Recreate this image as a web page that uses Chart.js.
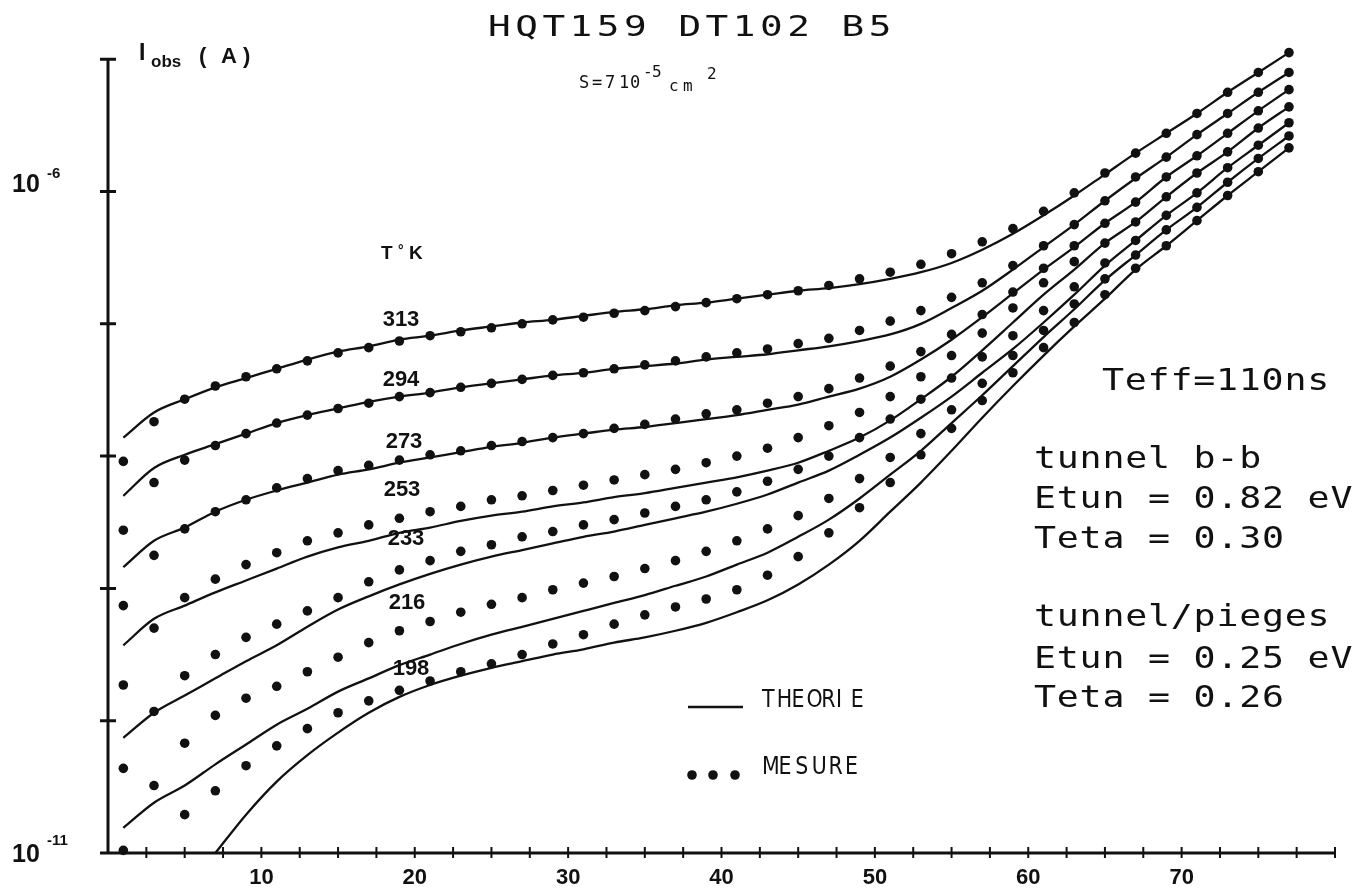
<!DOCTYPE html>
<html>
<head>
<meta charset="utf-8">
<script src="https://cdn.jsdelivr.net/npm/chart.js@4.4.1/dist/chart.umd.min.js"></script>
<style>
  html, body { margin: 0; padding: 0; background: #fff; }
  canvas { display: block; }
</style>
</head>
<body>
<canvas id="chart" width="1355" height="888"></canvas>
<script>
// reverse voltage Vinv (V) of every measured point
const vinv = [1, 3, 5, 7, 9, 11, 13, 15, 17, 19, 21, 23, 25, 27, 29, 31, 33, 35, 37, 39,
              41, 43, 45, 47, 49, 51, 53, 55, 57, 59, 61, 63, 65, 67, 69, 71, 73, 75, 77];
const temps = [313, 294, 273, 253, 233, 216, 198];

// log10 of Iobs (A) -- measured points (mes) and theory curves (th)
const mes313 = [-8.04, -7.74, -7.57, -7.47, -7.40, -7.34, -7.28, -7.22, -7.18, -7.13, -7.09, -7.06, -7.03, -7.00, -6.97, -6.95, -6.92, -6.90, -6.87, -6.84,
                -6.81, -6.78, -6.75, -6.71, -6.66, -6.61, -6.55, -6.47, -6.38, -6.28, -6.15, -6.01, -5.86, -5.71, -5.56, -5.41, -5.25, -5.10, -4.95];
const th313  = [-7.86, -7.67, -7.57, -7.48, -7.41, -7.34, -7.27, -7.21, -7.17, -7.12, -7.09, -7.05, -7.02, -6.99, -6.97, -6.94, -6.91, -6.89, -6.86, -6.84,
                -6.81, -6.78, -6.75, -6.73, -6.70, -6.66, -6.61, -6.54, -6.44, -6.32, -6.18, -6.03, -5.87, -5.71, -5.56, -5.41, -5.25, -5.10, -4.95];
const mes294 = [-8.56, -8.20, -8.03, -7.92, -7.83, -7.75, -7.69, -7.64, -7.60, -7.55, -7.52, -7.48, -7.45, -7.42, -7.39, -7.37, -7.34, -7.31, -7.28, -7.25,
                -7.22, -7.19, -7.15, -7.11, -7.05, -6.98, -6.90, -6.80, -6.69, -6.56, -6.41, -6.25, -6.07, -5.89, -5.74, -5.57, -5.41, -5.25, -5.10];
const th294  = [-8.30, -8.09, -7.99, -7.91, -7.83, -7.75, -7.69, -7.64, -7.59, -7.55, -7.52, -7.48, -7.45, -7.42, -7.39, -7.37, -7.34, -7.32, -7.30, -7.27,
                -7.25, -7.23, -7.20, -7.17, -7.13, -7.08, -7.00, -6.88, -6.75, -6.59, -6.42, -6.25, -6.07, -5.90, -5.74, -5.57, -5.41, -5.25, -5.10];
const mes273 = [-9.13, -8.75, -8.55, -8.42, -8.33, -8.24, -8.17, -8.11, -8.07, -8.03, -7.99, -7.96, -7.92, -7.89, -7.86, -7.83, -7.79, -7.76, -7.72, -7.68,
                -7.65, -7.60, -7.55, -7.49, -7.41, -7.32, -7.21, -7.08, -6.93, -6.76, -6.58, -6.41, -6.24, -6.08, -5.89, -5.73, -5.56, -5.39, -5.23];
const th273  = [-8.84, -8.64, -8.54, -8.42, -8.33, -8.26, -8.20, -8.14, -8.10, -8.05, -8.01, -7.97, -7.93, -7.90, -7.86, -7.83, -7.80, -7.78, -7.75, -7.72,
                -7.69, -7.65, -7.61, -7.55, -7.49, -7.40, -7.27, -7.12, -6.95, -6.77, -6.59, -6.42, -6.24, -6.08, -5.89, -5.73, -5.56, -5.39, -5.23];
const mes253 = [-9.73, -9.30, -9.07, -8.93, -8.82, -8.73, -8.64, -8.58, -8.52, -8.47, -8.42, -8.38, -8.33, -8.30, -8.26, -8.22, -8.18, -8.14, -8.10, -8.05,
                -8.00, -7.94, -7.86, -7.77, -7.67, -7.55, -7.40, -7.24, -7.07, -6.88, -6.69, -6.53, -6.39, -6.23, -6.04, -5.86, -5.70, -5.52, -5.36];
const th253  = [-9.43, -9.23, -9.13, -9.03, -8.94, -8.85, -8.76, -8.69, -8.64, -8.58, -8.54, -8.49, -8.45, -8.42, -8.38, -8.35, -8.31, -8.28, -8.24, -8.20,
                -8.16, -8.11, -8.05, -7.96, -7.86, -7.73, -7.57, -7.40, -7.20, -6.99, -6.78, -6.59, -6.39, -6.23, -6.04, -5.86, -5.70, -5.52, -5.36];
const mes233 = [-10.36, -9.93, -9.66, -9.50, -9.37, -9.27, -9.17, -9.07, -8.95, -8.86, -8.79, -8.72, -8.67, -8.61, -8.57, -8.52, -8.48, -8.43, -8.38, -8.33,
                -8.27, -8.19, -8.10, -8.00, -7.86, -7.72, -7.57, -7.41, -7.25, -7.09, -6.90, -6.72, -6.54, -6.37, -6.18, -6.01, -5.82, -5.65, -5.48];
const th233  = [-10.13, -9.94, -9.81, -9.68, -9.55, -9.43, -9.29, -9.16, -9.06, -8.97, -8.89, -8.82, -8.76, -8.71, -8.66, -8.61, -8.57, -8.52, -8.47, -8.42,
                -8.36, -8.29, -8.20, -8.11, -7.99, -7.86, -7.71, -7.55, -7.37, -7.19, -6.99, -6.78, -6.56, -6.37, -6.18, -6.01, -5.82, -5.65, -5.48];
const mes216 = [-10.98, -10.49, -10.17, -9.96, -9.83, -9.74, -9.63, -9.52, -9.41, -9.32, -9.25, -9.18, -9.12, -9.07, -9.01, -8.96, -8.91, -8.85, -8.79, -8.72,
                -8.64, -8.55, -8.45, -8.32, -8.17, -8.01, -7.83, -7.65, -7.45, -7.24, -7.05, -6.85, -6.66, -6.48, -6.29, -6.12, -5.93, -5.75, -5.58];
const th216  = [-10.81, -10.62, -10.49, -10.33, -10.18, -10.03, -9.91, -9.78, -9.68, -9.58, -9.50, -9.42, -9.35, -9.29, -9.23, -9.17, -9.11, -9.05, -8.98, -8.91,
                -8.82, -8.73, -8.61, -8.48, -8.32, -8.14, -7.96, -7.75, -7.54, -7.32, -7.10, -6.89, -6.67, -6.48, -6.29, -6.12, -5.93, -5.75, -5.58];
const mes198 = [null, null, -10.71, -10.53, -10.34, -10.19, -10.06, -9.94, -9.85, -9.77, -9.70, -9.63, -9.57, -9.50, -9.42, -9.35, -9.27, -9.20, -9.14, -9.08,
                -9.01, -8.90, -8.76, -8.58, -8.39, -8.20, -7.99, -7.79, -7.58, -7.37, -7.18, -6.99, -6.78, -6.58, -6.41, -6.22, -6.03, -5.85, -5.67];
const th198  = [null, null, null, -11.00, -10.71, -10.46, -10.26, -10.09, -9.94, -9.82, -9.73, -9.66, -9.60, -9.55, -9.50, -9.46, -9.41, -9.37, -9.32, -9.26,
                -9.18, -9.09, -8.97, -8.82, -8.64, -8.42, -8.20, -7.96, -7.71, -7.47, -7.24, -7.02, -6.81, -6.59, -6.41, -6.22, -6.03, -5.85, -5.67];

const mesures = [mes313, mes294, mes273, mes253, mes233, mes216, mes198];
const theories = [th313, th294, th273, th253, th233, th216, th198];

const xLabels = [10, 20, 30, 40, 50, 60, 70];
const decades = [-11, -10, -9, -8, -7, -6, -5];

const toPoints = logs => vinv.map((v, i) => ({ x: v, y: logs[i] === null ? null : Math.pow(10, logs[i]) }));

const datasets = [];
theories.forEach((th, k) => datasets.push({
  label: 'T' + temps[k],
  data: toPoints(th),
  showLine: true,
  borderColor: '#111',
  borderWidth: 2.3,
  pointRadius: 0,
  cubicInterpolationMode: 'monotone',
  clip: false
}));
mesures.forEach((m, k) => datasets.push({
  label: 'M' + temps[k],
  data: toPoints(m),
  showLine: false,
  pointRadius: 4.8,
  pointBackgroundColor: '#111',
  pointBorderWidth: 0,
  clip: false
}));

// plotter style text: one glyph every `pitch` pixels, stretched by sx
function spaced(ctx, text, x, y, pitch, sx) {
  for (let i = 0; i < text.length; i++) {
    ctx.save();
    ctx.translate(x + i * pitch, y);
    ctx.scale(sx || 1, 1);
    ctx.fillText(text[i], 0, 0);
    ctx.restore();
  }
}

const frame = {
  id: 'frame',
  beforeDatasetsDraw(chart) {
    const { ctx, scales: { x, y } } = chart;
    const x0 = x.getPixelForValue(0), x1 = x.getPixelForValue(80);
    const yb = y.getPixelForValue(1e-11), yt = y.getPixelForValue(1e-5);
    ctx.save();
    ctx.strokeStyle = '#111';
    ctx.lineWidth = 3;
    ctx.beginPath();
    ctx.moveTo(x0, yt); ctx.lineTo(x0, yb);
    ctx.moveTo(x0 - 8, yb); ctx.lineTo(x1, yb);
    decades.forEach(d => {
      const py = y.getPixelForValue(Math.pow(10, d));
      ctx.moveTo(x0 - 8, py); ctx.lineTo(x0 + 8, py);
    });
    ctx.stroke();
    ctx.lineWidth = 2;
    ctx.beginPath();
    for (let v = 2.5; v <= 80; v += 2.5) {
      const px = x.getPixelForValue(v);
      ctx.moveTo(px, yb - 6); ctx.lineTo(px, yb + 5);
    }
    ctx.stroke();

    // axis numbers
    ctx.fillStyle = '#111';
    ctx.textAlign = 'center';
    ctx.textBaseline = 'alphabetic';
    ctx.font = 'bold 22px "Liberation Sans", Arial, sans-serif';
    xLabels.forEach(v => ctx.fillText(String(v), x.getPixelForValue(v), 884));
    ctx.textAlign = 'left';
    const yLab = (exp, base, supBase) => {
      ctx.font = 'bold 25px "Liberation Sans", Arial, sans-serif';
      ctx.fillText('10', 12, base);
      ctx.font = 'bold 15px "Liberation Sans", Arial, sans-serif';
      ctx.fillText(exp, 47, supBase);
    };
    yLab('-6', 192, 178);
    yLab('-11', 862, 845);

    // axis title
    ctx.font = 'bold 23px "Liberation Sans", Arial, sans-serif';
    ctx.fillText('I', 139, 60);
    ctx.font = 'bold 17px "Liberation Sans", Arial, sans-serif';
    ctx.fillText('obs', 151, 67);
    ctx.font = 'bold 22px "Liberation Sans", Arial, sans-serif';
    spaced(ctx, '(A)', 199, 63, 22);
    ctx.restore();
  },
  afterDraw(chart) {
    const { ctx } = chart;
    ctx.save();
    ctx.fillStyle = '#111';
    ctx.textBaseline = 'alphabetic';
    ctx.textAlign = 'left';

    ctx.font = '29px "DejaVu Sans Mono", monospace';
    spaced(ctx, 'HQT159 DT102 B5', 488, 36, 27.2, 1.3);

    ctx.font = '17px "DejaVu Sans Mono", monospace';
    ctx.fillText('S', 579, 88);
    ctx.fillText('=', 592, 88);
    ctx.fillText('7', 605, 88);
    ctx.fillText('1', 619, 88);
    ctx.fillText('0', 630, 88);
    ctx.font = '16px "DejaVu Sans Mono", monospace';
    ctx.fillText('-', 643, 77);
    ctx.fillText('5', 652, 77);
    ctx.fillText('c', 669, 91);
    ctx.fillText('m', 683, 91);
    ctx.fillText('2', 707, 79);

    ctx.font = '30px "DejaVu Sans Mono", monospace';
    spaced(ctx, 'Teff=110ns', 1102, 390, 22.8, 1.22);
    spaced(ctx, 'tunnel b-b', 1034, 468, 22.8, 1.22);
    spaced(ctx, 'Etun = 0.82 eV', 1034, 508, 22.8, 1.22);
    spaced(ctx, 'Teta = 0.30', 1034, 548, 22.8, 1.22);
    spaced(ctx, 'tunnel/pieges', 1034, 626, 22.8, 1.22);
    spaced(ctx, 'Etun = 0.25 eV', 1034, 668, 22.8, 1.22);
    spaced(ctx, 'Teta = 0.26', 1034, 707, 22.8, 1.22);

    // legend
    ctx.strokeStyle = '#111';
    ctx.lineWidth = 2.5;
    ctx.beginPath(); ctx.moveTo(688, 707); ctx.lineTo(743, 707); ctx.stroke();
    [692, 713, 735].forEach(px => { ctx.beginPath(); ctx.arc(px, 775, 4.8, 0, Math.PI * 2); ctx.fill(); });
    ctx.font = '24px "DejaVu Sans Condensed", "DejaVu Sans", sans-serif';
    spaced(ctx, 'THEORIE', 762, 707, 14.8, 0.95);
    spaced(ctx, 'MESURE', 762, 774, 16.6, 0.95);

    // temperatures, one per curve
    ctx.font = 'bold 19px "Liberation Sans", Arial, sans-serif';
    ctx.fillText('T', 381, 259);
    ctx.font = 'bold 14px "Liberation Sans", Arial, sans-serif';
    ctx.fillText('\u00b0', 398, 255);
    ctx.font = 'bold 19px "Liberation Sans", Arial, sans-serif';
    ctx.fillText('K', 409, 259);
    const labelY = [326, 386, 448, 496, 545, 609, 675];
    const labelX = [401, 401, 404, 402, 406, 407, 411];
    ctx.font = 'bold 22px "Liberation Sans", Arial, sans-serif';
    ctx.textAlign = 'center';
    temps.forEach((t, k) => ctx.fillText(String(t), labelX[k], labelY[k]));
    ctx.restore();
  }
};

new Chart(document.getElementById('chart'), {
  type: 'scatter',
  data: { datasets },
  options: {
    responsive: false,
    animation: false,
    devicePixelRatio: 1,
    layout: { padding: { left: 108, right: 20, top: 46, bottom: 35 } },
    plugins: { legend: { display: false }, tooltip: { enabled: false } },
    scales: {
      x: { type: 'linear', min: 0, max: 80, display: false },
      y: { type: 'logarithmic', min: 1e-11, max: Math.pow(10, -4.9), display: false }
    }
  },
  plugins: [frame]
});
</script>
</body>
</html>
